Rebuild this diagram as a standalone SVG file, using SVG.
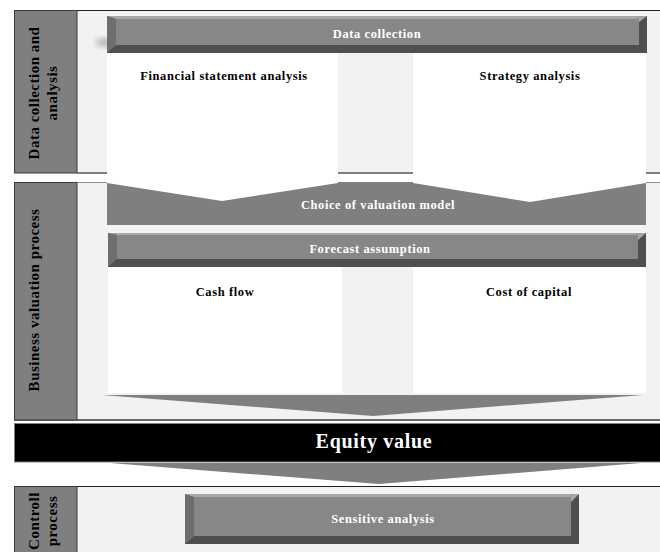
<svg xmlns="http://www.w3.org/2000/svg" width="660" height="552" viewBox="0 0 660 552">
<style>
.band{fill:#f2f2f2}
.lbl{fill:#7f7f7f;stroke:#3a3a3a;stroke-width:1}
.side{font-family:"Liberation Serif",serif;font-weight:bold;font-size:15px;fill:#000;text-anchor:middle;letter-spacing:0.5px}
.bartxt{font-family:"Liberation Serif",serif;font-weight:bold;font-size:12.5px;fill:#fff;text-anchor:middle;letter-spacing:0.6px}
.paneltxt{font-family:"Liberation Serif",serif;font-weight:bold;font-size:12.5px;fill:#000;text-anchor:middle;letter-spacing:0.6px}
.face{fill:#878787}
.dark{fill:#4f4f4f}
.lb{fill:#6e6e6e}
.tb{fill:#a8a8a8}
.gray{fill:#7f7f7f}
.white{fill:#fff}
</style>
<defs>
<filter id="sh" x="-20%" y="-50%" width="140%" height="200%"><feGaussianBlur stdDeviation="3"/></filter>
</defs>
<rect width="660" height="552" fill="#fff"/>

<g id="band1">
<rect class="band" x="77" y="10" width="583" height="163"/>
<line x1="14" y1="10.5" x2="660" y2="10.5" stroke="#222" stroke-width="1.2"/>
<line x1="77" y1="173" x2="660" y2="173" stroke="#808080" stroke-width="2"/>
<rect class="lbl" x="14.5" y="10.5" width="62.5" height="162.5"/>
<text class="side" transform="translate(39,93) rotate(-90)">Data collection and</text>
<text class="side" transform="translate(57,93) rotate(-90)">analysis</text>
</g>

<g id="band2">
<rect class="band" x="77" y="182" width="583" height="238"/>
<line x1="77" y1="182.5" x2="660" y2="182.5" stroke="#909090" stroke-width="1"/>
<line x1="14" y1="420" x2="660" y2="420" stroke="#3a3a3a" stroke-width="1.5"/>
<rect class="lbl" x="14.5" y="182.5" width="62.5" height="237.5"/>
<text class="side" transform="translate(39,300) rotate(-90)">Business valuation process</text>
</g>

<g id="band3">
<rect class="band" x="77" y="486" width="583" height="66"/>
<line x1="14" y1="486.5" x2="660" y2="486.5" stroke="#222" stroke-width="1.2"/>
<rect class="lbl" x="14.5" y="486.5" width="62.5" height="70"/>
<text class="side" transform="translate(39,521) rotate(-90)">Controll</text>
<text class="side" transform="translate(57,521) rotate(-90)">process</text>
</g>

<g id="data-collection">
<rect x="97" y="39" width="18" height="7" fill="#b0b0b0" filter="url(#sh)"/>
<rect class="dark" x="107" y="16" width="540" height="37"/>
<polygon class="lb" points="107,16 116,19 116,45 107,53"/>
<polygon class="tb" points="107,16 641,16 636,19 116,19"/>
<polygon fill="#a8a8a8" points="641,16 647,16 639,22 636,19"/>
<rect class="face" x="116" y="19" width="523" height="26"/>
<text class="bartxt" x="377" y="38">Data collection</text>
</g>

<g id="choice-of-valuation-model">
<rect class="gray" x="107" y="182" width="539" height="43"/>
<text class="bartxt" x="378" y="209">Choice of valuation model</text>
</g>

<g id="financial-statement-analysis">
<polygon class="white" points="107,53 338,53 338,183 222,201 107,183"/>
<text class="paneltxt" x="224" y="80">Financial statement analysis</text>
</g>

<g id="strategy-analysis">
<polygon class="white" points="413,53 646,53 646,183 530,202 413,183"/>
<text class="paneltxt" x="530" y="80">Strategy analysis</text>
</g>

<g id="forecast-assumption">
<rect class="dark" x="108" y="233" width="538" height="34"/>
<polygon class="lb" points="108,233 117,235 117,259 108,267"/>
<polygon class="tb" points="108,233 641,233 636,235 117,235"/>
<polygon fill="#a8a8a8" points="641,233 646,233 638,240 636,235"/>
<rect class="face" x="117" y="235" width="521" height="24"/>
<text class="bartxt" x="370" y="253">Forecast assumption</text>
</g>

<g id="cash-flow">
<rect class="white" x="108" y="267" width="234" height="126"/>
<text class="paneltxt" x="225" y="296">Cash flow</text>
</g>

<g id="cost-of-capital">
<rect class="white" x="413" y="267" width="233" height="126"/>
<text class="paneltxt" x="529" y="296">Cost of capital</text>
</g>

<g id="connectors">
<polygon class="gray" points="102,395 643,395 373,416"/>
<polygon class="gray" points="110,463 641,463 379,484"/>
</g>

<g id="equity-value">
<rect x="14.5" y="423.5" width="646" height="38.5" fill="#000" stroke="#808080" stroke-width="1"/>
<text x="374" y="448" font-family="'Liberation Serif',serif" font-weight="bold" font-size="20" letter-spacing="0.7" fill="#fff" text-anchor="middle">Equity value</text>
</g>

<g id="sensitive-analysis">
<rect class="dark" x="185" y="494" width="394" height="50"/>
<polygon class="lb" points="185,494 194,497 194,536 185,544"/>
<polygon class="tb" points="185,494 574,494 570,497 194,497"/>
<polygon fill="#a8a8a8" points="574,494 579,494 571,502 570,497"/>
<rect class="face" x="194" y="497" width="377" height="39"/>
<text class="bartxt" x="383" y="523">Sensitive analysis</text>
</g>
</svg>
